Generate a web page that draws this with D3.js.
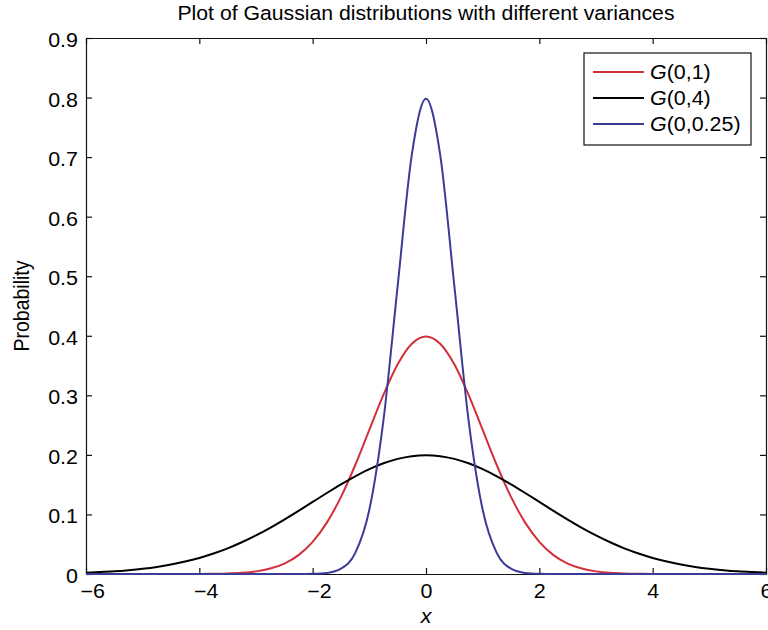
<!DOCTYPE html>
<html>
<head>
<meta charset="utf-8">
<script src="https://cdn.jsdelivr.net/npm/d3@7"></script>
<style>
  html, body { margin: 0; padding: 0; background: #fff; }
  svg { display: block; font-family: "Liberation Sans", Arial, Helvetica, sans-serif; }
</style>
</head>
<body>
<svg id="chart" width="768" height="630"></svg>
<script>
// Sample positions along x
const xValues = [
  -6, -5.75, -5.5, -5.25, -5, -4.75, -4.5, -4.25, -4, -3.75, -3.5, -3.25, -3,
  -2.75, -2.5, -2.25, -2, -1.75, -1.5, -1.25, -1, -0.75, -0.5, -0.25, 0,
  0.25, 0.5, 0.75, 1, 1.25, 1.5, 1.75, 2, 2.25, 2.5, 2.75, 3, 3.25, 3.5,
  3.75, 4, 4.25, 4.5, 4.75, 5, 5.25, 5.5, 5.75, 6
];

// G(0,1)
const g01Values = [
  0, 0, 0, 0, 0, 0, 0, 0, 0.0001, 0.0004, 0.0009, 0.0020, 0.0044,
  0.0091, 0.0175, 0.0317, 0.0540, 0.0863, 0.1295, 0.1826, 0.2420, 0.3011, 0.3521, 0.3867, 0.3989,
  0.3867, 0.3521, 0.3011, 0.2420, 0.1826, 0.1295, 0.0863, 0.0540, 0.0317, 0.0175, 0.0091, 0.0044, 0.0020, 0.0009,
  0.0004, 0.0001, 0, 0, 0, 0, 0, 0, 0, 0
];

// G(0,4)
const g04Values = [
  0.0022, 0.0032, 0.0045, 0.0064, 0.0088, 0.0119, 0.0159, 0.0209, 0.0270, 0.0344, 0.0431, 0.0533, 0.0648,
  0.0775, 0.0913, 0.1059, 0.1210, 0.1360, 0.1506, 0.1641, 0.1760, 0.1859, 0.1933, 0.1979, 0.1995,
  0.1979, 0.1933, 0.1859, 0.1760, 0.1641, 0.1506, 0.1360, 0.1210, 0.1059, 0.0913, 0.0775, 0.0648, 0.0533, 0.0431,
  0.0344, 0.0270, 0.0209, 0.0159, 0.0119, 0.0088, 0.0064, 0.0045, 0.0032, 0.0022
];

// G(0,0.25)
const g025Values = [
  0, 0, 0, 0, 0, 0, 0, 0, 0, 0, 0, 0, 0,
  0, 0, 0, 0.0003, 0.0017, 0.0089, 0.0351, 0.1080, 0.2590, 0.4839, 0.7041, 0.7979,
  0.7041, 0.4839, 0.2590, 0.1080, 0.0351, 0.0089, 0.0017, 0.0003, 0, 0, 0, 0, 0, 0,
  0, 0, 0, 0, 0, 0, 0, 0, 0, 0
];

const seriesNames = ["(0,1)", "(0,4)", "(0,0.25)"];
const seriesColors = ["#d2303a", "#000000", "#3c3c98"];
const xTicks = [-6, -4, -2, 0, 2, 4, 6];
const yTicks = [0, 0.1, 0.2, 0.3, 0.4, 0.5, 0.6, 0.7, 0.8, 0.9];

const titleText = "Plot of Gaussian distributions with different variances";
const xLabel = "x";
const yLabel = "Probability";

// Layout
const W = 768, H = 630;
const plot = { left: 86, right: 766, top: 38, bottom: 574 };
const SX = 1.1;          // horizontal text stretch
const FS = 19.5;         // base font size
const TICK = 6;

const svg = d3.select("#chart");

const x = d3.scaleLinear().domain([-6, 6]).range([plot.left, plot.right]);
const y = d3.scaleLinear().domain([0, 0.9]).range([plot.bottom, plot.top]);

const fmtX = d => (d < 0 ? "\u2212" + Math.abs(d) : String(d));
const fmtY = d => (d === 0 ? "0" : d3.format(".1f")(d));

// Axes: ticks point inward on all four sides
const axisColor = "#111";

const gBottom = svg.append("g")
  .attr("transform", `translate(0,${plot.bottom})`)
  .call(d3.axisBottom(x).tickValues(xTicks).tickSizeInner(-TICK).tickSizeOuter(0).tickFormat(fmtX));
gBottom.selectAll("text")
  .attr("y", 0)
  .attr("dy", 0)
  .attr("transform", `translate(0,24) scale(${SX},1)`)
  .attr("dx", d => (d < 0 ? "0.292em" : 0));

const gLeft = svg.append("g")
  .attr("transform", `translate(${plot.left},0)`)
  .call(d3.axisLeft(y).tickValues(yTicks).tickSizeInner(-TICK).tickSizeOuter(0).tickFormat(fmtY));
gLeft.selectAll("text")
  .attr("x", 0)
  .attr("dy", 0)
  .attr("transform", `translate(-8,8.5) scale(${SX},1)`);

const gTop = svg.append("g")
  .attr("transform", `translate(0,${plot.top})`)
  .call(d3.axisTop(x).tickValues(xTicks).tickSizeInner(-TICK).tickSizeOuter(0).tickFormat(""));

const gRight = svg.append("g")
  .attr("transform", `translate(${plot.right},0)`)
  .call(d3.axisRight(y).tickValues(yTicks).tickSizeInner(-TICK).tickSizeOuter(0).tickFormat(""));

[gBottom, gLeft, gTop, gRight].forEach(g => {
  g.selectAll("path.domain").attr("stroke", axisColor).attr("stroke-width", 1.2);
  g.selectAll(".tick line").attr("stroke", axisColor).attr("stroke-width", 1.2);
  g.selectAll("text")
    .attr("fill", "#000")
    .style("font-size", FS + "px")
    .style("font-family", "'Liberation Sans', Arial, sans-serif");
});

// Curves
const series = [g01Values, g04Values, g025Values];
const line = d3.line()
  .x((d, i) => x(xValues[i]))
  .y(d => y(d))
  .curve(d3.curveMonotoneX);

svg.append("g")
  .selectAll("path")
  .data(series)
  .join("path")
  .attr("d", d => line(d))
  .attr("fill", "none")
  .attr("stroke", (d, i) => seriesColors[i])
  .attr("stroke-width", 2)
  .attr("stroke-linejoin", "round");

// Title
svg.append("text")
  .attr("transform", `translate(${(plot.left + plot.right) / 2},20) scale(${SX},1)`)
  .attr("text-anchor", "middle")
  .style("font-size", "19.3px")
  .text(titleText);

// Axis labels
svg.append("text")
  .attr("transform", `translate(${(plot.left + plot.right) / 2},623) scale(${SX},1)`)
  .attr("text-anchor", "middle")
  .style("font-size", FS + "px")
  .style("font-style", "italic")
  .text(xLabel);

svg.append("text")
  .attr("transform", `translate(29,${(plot.top + plot.bottom) / 2}) rotate(-90) scale(1,${SX})`)
  .attr("text-anchor", "middle")
  .style("font-size", FS + "px")
  .text(yLabel);

// Legend
const legend = svg.append("g").attr("transform", "translate(584,53)");
legend.append("rect")
  .attr("width", 167).attr("height", 92)
  .attr("fill", "#fff").attr("stroke", axisColor).attr("stroke-width", 1.2);

const rows = legend.selectAll("g.row")
  .data(seriesNames)
  .join("g")
  .attr("class", "row")
  .attr("transform", (d, i) => `translate(0,${19 + i * 26})`);

rows.append("line")
  .attr("x1", 9).attr("x2", 60)
  .attr("stroke", (d, i) => seriesColors[i])
  .attr("stroke-width", 2);

const labels = rows.append("text")
  .attr("transform", `translate(66,7) scale(${SX},1)`)
  .style("font-size", FS + "px");
labels.append("tspan").style("font-style", "italic").text("G");
labels.append("tspan").text(d => d);
</script>
</body>
</html>
